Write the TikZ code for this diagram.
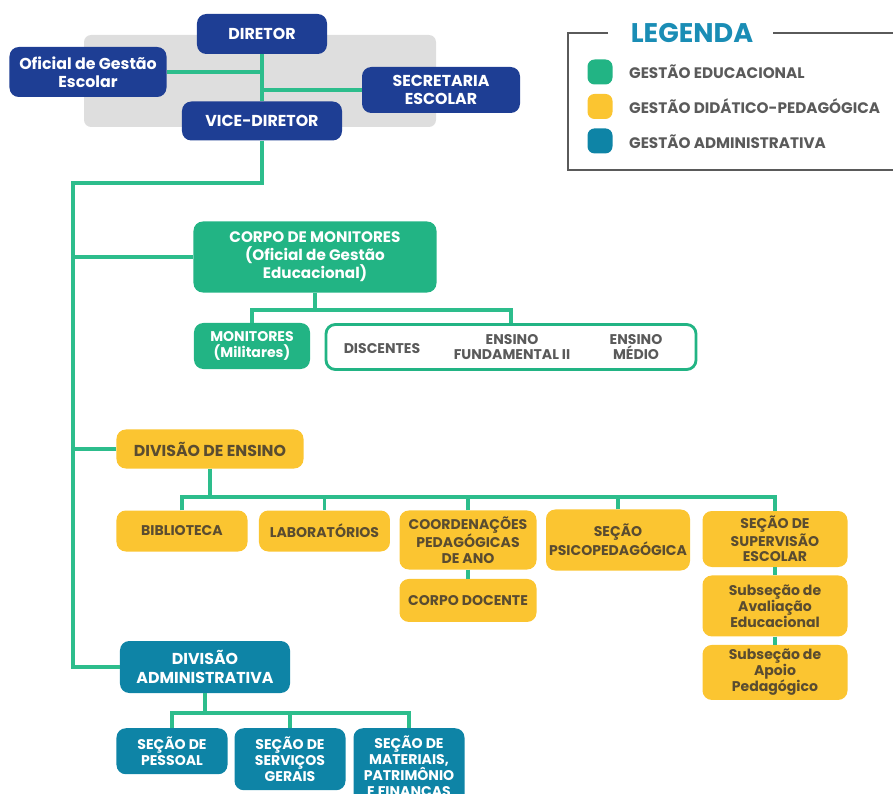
\documentclass[tikz,border=0pt]{standalone}
\usepackage{fontspec}
\setmainfont{Poppins}
\usetikzlibrary{positioning}
\definecolor{navy}{HTML}{1E3E94}
\definecolor{verde}{HTML}{22B484}
\definecolor{amarelo}{HTML}{FBC531}
\definecolor{azul}{HTML}{0E84A6}
\definecolor{linha}{HTML}{2DBD8C}
\definecolor{fundo}{HTML}{DEDEDE}
\definecolor{pedtxt}{HTML}{5A4C30}
\definecolor{cinza}{HTML}{5A5A5A}
\definecolor{titulo}{HTML}{1A8DB5}

\begin{document}
\begin{tikzpicture}[x=0.03cm, y=-0.03cm,
    caixa/.style=
    {rounded corners=8pt, align=center, inner sep=0pt, font=\bfseries\fontsize{12}{13.5}\selectfont},
    dir/.style=
    {caixa, fill=navy, text=white, font=\bfseries\fontsize{13.5}{15}\selectfont},
    edu/.style=
    {caixa, fill=verde, text=white},
    ped/.style=
    {caixa, fill=amarelo, text=pedtxt},
    adm/.style=
    {caixa, fill=azul, text=white},
    conector/.style=
    {draw=linha, line width=3pt},
    legtxt/.style=
    {anchor=west, text=cinza, font=\fontsize{13}{15}\selectfont\bfseries},
    node distance = .25cm]
    \useasboundingbox (0,0) rectangle (893,794);
    % gestao escolar
    \fill[fundo, rounded corners=6pt] (84,35) rectangle (436,127);
    \node (dir) [dir, minimum width=3.9cm, minimum height=1.2cm] at (262,34) {DIRETOR};
    \node (ofi) [dir, minimum width=4.71cm, minimum height=1.5cm] at (88,72) {Oficial de Gestão\\Escolar};
    \node (sec) [dir, minimum width=4.74cm, minimum height=1.38cm] at (441,90) {SECRETARIA\\ESCOLAR};
    \node (vice) [dir, minimum width=4.8cm, minimum height=1.17cm] at (262,121) {VICE-DIRETOR};
    % legenda
    \draw[cinza, line width=2.4pt] (608,33) -- (568,33) -- (568,170) -- (900,170);
    \draw[cinza, line width=2.4pt] (773,33) -- (900,33);
    \node (leg) [text=titulo, font=\bfseries\fontsize{23}{24}\selectfont] at (692,33) {LEGENDA};
    \node (sw1) [fill=verde, rounded corners=6pt, minimum size=.75cm] at (600,72) {};
    \node (sw2) [fill=amarelo, rounded corners=6pt, minimum size=.75cm, below=.27cm of sw1] {};
    \node (sw3) [fill=azul, rounded corners=6pt, minimum size=.75cm, below=.27cm of sw2] {};
    \node (l1) [legtxt] at (625,72) {GESTÃO EDUCACIONAL};
    \node (l2) [legtxt] at (625,106) {GESTÃO DIDÁTICO-PEDAGÓGICA};
    \node (l3) [legtxt] at (625,142) {GESTÃO ADMINISTRATIVA};
    % gestao educacional
    \node (corpo) [edu, minimum width=7.29cm, minimum height=2.13cm, font=\bfseries\fontsize{13}{15.5}\selectfont] at (315,257) {CORPO DE MONITORES\\(Oficial de Gestão\\Educacional)};
    \node (monit) [edu, minimum width=3.48cm, minimum height=1.38cm] at (252,346) {MONITORES\\(Militares)};
    \node (disc) [caixa, draw=verde, line width=2.4pt, fill=white, minimum width=11.1cm, minimum height=1.35cm] at (511,347) {};
    \node (d1) [text=cinza, font=\bfseries\fontsize{12}{13.5}\selectfont] at (382,349) {DISCENTES};
    \node (d2) [text=cinza, align=center, font=\bfseries\fontsize{12}{13.5}\selectfont] at (512,347) {ENSINO\\FUNDAMENTAL II};
    \node (d3) [text=cinza, align=center, font=\bfseries\fontsize{12}{13.5}\selectfont] at (636,347) {ENSINO\\MÉDIO};
    % gestao didatico-pedagogica
    \node (divens) [ped, minimum width=5.61cm, minimum height=1.17cm, font=\bfseries\fontsize{13.5}{15}\selectfont] at (210,449) {DIVISÃO DE ENSINO};
    \node (bib) [ped, minimum width=3.93cm, minimum height=1.23cm] at (182,531) {BIBLIOTECA};
    \node (lab) [ped, minimum width=3.93cm, minimum height=1.23cm, right=.33cm of bib] {LABORATÓRIOS};
    \node (coord) [ped, minimum width=4.11cm, minimum height=1.77cm] at (468,540) {COORDENAÇÕES\\PEDAGÓGICAS\\DE ANO};
    \node (doc) [ped, minimum width=4.11cm, minimum height=1.29cm, below=.27cm of coord] {CORPO DOCENTE};
    \node (psico) [ped, minimum width=4.32cm, minimum height=1.83cm] at (618,540) {SEÇÃO\\PSICOPEDAGÓGICA};
    \node (sup) [ped, minimum width=4.35cm, minimum height=1.68cm] at (775,539) {SEÇÃO DE\\SUPERVISÃO\\ESCOLAR};
    \node (aval) [ped, minimum width=4.35cm, minimum height=1.83cm, below=.24cm of sup] {Subseção de\\Avaliação\\Educacional};
    \node (apoio) [ped, minimum width=4.35cm, minimum height=1.65cm, below=.24cm of aval] {Subseção de\\Apoio\\Pedagógico};
    % gestao administrativa
    \node (divadm) [adm, minimum width=5.1cm, minimum height=1.56cm, font=\bfseries\fontsize{13.5}{16}\selectfont] at (205,667) {DIVISÃO\\ADMINISTRATIVA};
    \node (pes) [adm, anchor=north, minimum width=3.33cm, minimum height=1.38cm] at (172,728) {SEÇÃO DE\\PESSOAL};
    \node (serv) [adm, anchor=north, minimum width=3.33cm, minimum height=1.86cm] at (290,728) {SEÇÃO DE\\SERVIÇOS\\GERAIS};
    \node (mat) [adm, anchor=north, minimum width=3.33cm, minimum height=2.4cm] at (409,728) {SEÇÃO DE\\MATERIAIS,\\PATRIMÔNIO\\E FINANÇAS};
    % conectores
    \coordinate (tronco) at (73,183);
    \coordinate (c1) at (315,310);
    \coordinate (e1) at (210,497);
    \coordinate (a1) at (205,713);
    \path[conector] (dir) -- (vice);
    \path[conector] (ofi.east) -- (ofi.east -| dir.south);
    \path[conector] (sec.west) -- (sec.west -| dir.south);
    \path[conector] (vice.south) |- (tronco) |- (divadm.west);
    \path[conector] (tronco |- corpo) -- (corpo.west);
    \path[conector] (tronco |- divens) -- (divens.west);
    \path[conector] (corpo) -- (c1);
    \path[conector] (monit.north) |- (c1) -| (disc.north);
    \path[conector] (divens) -- (e1);
    \path[conector] (bib.north) |- (e1) -| (sup.north);
    \foreach \n in {lab,coord,psico}
        \path[conector] (\n.north) -- (\n.north |- e1);
    \path[conector] (coord) -- (doc) (sup) -- (aval) (aval) -- (apoio);
    \path[conector] (divadm) -- (a1);
    \path[conector] (pes.north) |- (a1) -| (mat.north);
    \path[conector] (serv.north) -- (serv.north |- a1);
\end{tikzpicture}
\end{document}
